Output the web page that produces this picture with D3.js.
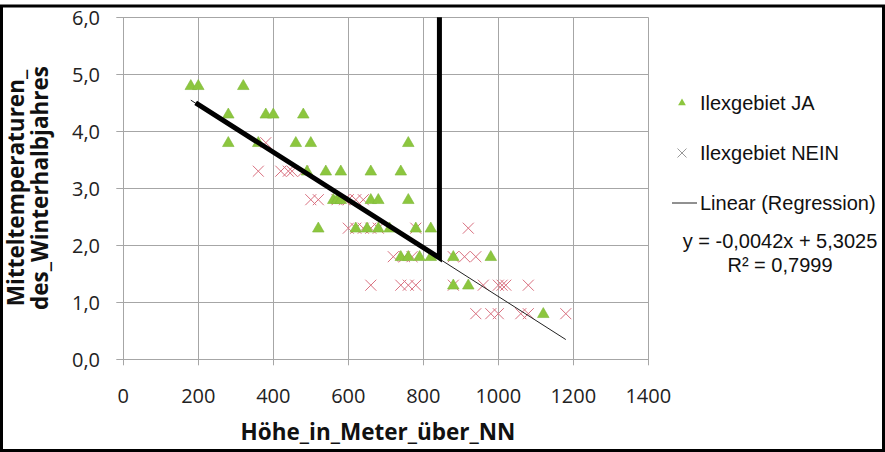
<!DOCTYPE html>
<html>
<head>
<meta charset="utf-8">
<script src="https://d3js.org/d3.v7.min.js"></script>
<style>
  body { margin: 0; background: #fff; }
  .tick-lbl { font-family: "Open Sans", sans-serif; font-size: 20px; fill: #222; }
  .axis-title { font-family: "Open Sans", sans-serif; font-size: 22.5px; font-weight: bold; fill: #111; }
  .legend-text { font-family: "Liberation Sans", Arial, sans-serif; font-size: 20px; fill: #111; }
</style>
</head>
<body>
<div id="chart"></div>
<script>
// Höhe (m) / Mitteltemperatur
const jaX = [180, 200, 320, 280, 380, 400, 480, 280, 360, 460, 500, 760,
  490, 540, 580, 660, 740, 560, 570, 580, 660, 680, 760,
  520, 620, 650, 680, 710, 780, 820, 740, 760, 790, 820, 880, 980,
  880, 920, 1120];
const jaY = [4.8, 4.8, 4.8, 4.3, 4.3, 4.3, 4.3, 3.8, 3.8, 3.8, 3.8, 3.8,
  3.3, 3.3, 3.3, 3.3, 3.3, 2.8, 2.8, 2.8, 2.8, 2.8, 2.8,
  2.3, 2.3, 2.3, 2.3, 2.3, 2.3, 2.3, 1.8, 1.8, 1.8, 1.8, 1.8, 1.8,
  1.3, 1.3, 0.8];

const neinX = [380, 360, 420, 440, 450, 480,
  500, 520, 570, 590, 600, 620, 640,
  600, 620, 640, 660, 680, 780, 920,
  720, 750, 770, 880, 910, 940,
  660, 740, 760, 780, 880, 960, 1000, 1010, 1020, 1080,
  940, 980, 1000, 1060, 1080, 1180];
const neinY = [3.8, 3.3, 3.3, 3.3, 3.3, 3.3,
  2.8, 2.8, 2.8, 2.8, 2.8, 2.8, 2.8,
  2.3, 2.3, 2.3, 2.3, 2.3, 2.3, 2.3,
  1.8, 1.8, 1.8, 1.8, 1.8, 1.8,
  1.3, 1.3, 1.3, 1.3, 1.3, 1.3, 1.3, 1.3, 1.3, 1.3,
  0.8, 0.8, 0.8, 0.8, 0.8, 0.8];

// trend line y = slope*x + intercept
const slope = -0.0042;
const intercept = 5.3025;
const trendRange = [180, 1180];

// thick hand-drawn annotation line
const markX = [193, 843, 843];
const markY = [4.5, 1.78, 6.0];

const xTicks = [0, 200, 400, 600, 800, 1000, 1200, 1400];
const yTicks = [0, 1, 2, 3, 4, 5, 6];
const legendLabels = ["Ilexgebiet JA", "Ilexgebiet NEIN", "Linear (Regression)"];
const eqText = "y = -0,0042x + 5,3025";
const r2Text = "R² = 0,7999";

const W = 885, H = 452;
const greenFill = "#8cc63e";
const pink = "#d9707f";
const gridCol = "#a6a6a6";

const svg = d3.select("#chart").append("svg")
    .attr("width", W)
    .attr("height", H);

const x = d3.scaleLinear().domain([0, 1400]).range([123.3, 648.3]);
const y = d3.scaleLinear().domain([0, 6]).range([359.3, 17.3]);

// grid
svg.append("g")
    .selectAll("line.v")
    .data(xTicks)
    .enter().append("line")
    .attr("x1", d => Math.round(x(d)) + 0.5).attr("x2", d => Math.round(x(d)) + 0.5)
    .attr("y1", y(6)).attr("y2", y(0) + 6)
    .attr("stroke", gridCol).attr("stroke-width", 1);

svg.append("g")
    .selectAll("line.h")
    .data(yTicks)
    .enter().append("line")
    .attr("y1", d => Math.round(y(d)) + 0.5).attr("y2", d => Math.round(y(d)) + 0.5)
    .attr("x1", x(0) - 7).attr("x2", x(1400))
    .attr("stroke", gridCol).attr("stroke-width", 1);

// tick labels
const fmt = d => d.toFixed(1).replace(".", ",");
svg.append("g")
    .selectAll("text")
    .data(xTicks)
    .enter().append("text")
    .attr("class", "tick-lbl")
    .attr("x", d => x(d))
    .attr("y", 403)
    .attr("text-anchor", "middle")
    .text(d => d);

svg.append("g")
    .selectAll("text")
    .data(yTicks)
    .enter().append("text")
    .attr("class", "tick-lbl")
    .attr("x", 100)
    .attr("y", d => y(d))
    .attr("dy", "0.36em")
    .attr("text-anchor", "end")
    .text(fmt);

// axis titles
svg.append("text")
    .attr("class", "axis-title")
    .attr("x", 378)
    .attr("y", 440)
    .attr("text-anchor", "middle")
    .text("Höhe_in_Meter_über_NN");

const yTitle = svg.append("text")
    .attr("class", "axis-title")
    .attr("transform", "translate(0,188) rotate(-90)")
    .attr("text-anchor", "middle");
yTitle.append("tspan").attr("x", 0).attr("y", 24).text("Mitteltemperaturen_");
yTitle.append("tspan").attr("x", 0).attr("y", 48).text("des_Winterhalbjahres");

// NEIN crosses
const cross = (cx, cy, r) => `M${cx - r},${cy - r}L${cx + r},${cy + r}M${cx - r},${cy + r}L${cx + r},${cy - r}`;
svg.append("g")
    .selectAll("path")
    .data(neinX.map((v, i) => [v, neinY[i]]))
    .enter().append("path")
    .attr("d", d => cross(x(d[0]), y(d[1]), 5.5))
    .attr("stroke", pink)
    .attr("stroke-width", 1)
    .attr("fill", "none");

// JA triangles
const tri = d3.symbol().type(d3.symbolTriangle).size(58);
svg.append("g")
    .selectAll("path")
    .data(jaX.map((v, i) => [v, jaY[i]]))
    .enter().append("path")
    .attr("d", tri)
    .attr("transform", d => `translate(${x(d[0])},${y(d[1]) + 0.5})`)
    .attr("fill", greenFill)
    .attr("stroke", "#7fb83a")
    .attr("stroke-width", 0.6);

// regression line
svg.append("line")
    .attr("x1", x(trendRange[0])).attr("y1", y(slope * trendRange[0] + intercept))
    .attr("x2", x(trendRange[1])).attr("y2", y(slope * trendRange[1] + intercept))
    .attr("stroke", "#222")
    .attr("stroke-width", 1);

// thick annotation
svg.append("path")
    .datum(markX.map((v, i) => [v, markY[i]]))
    .attr("d", d3.line().x(d => x(d[0])).y(d => y(d[1])))
    .attr("fill", "none")
    .attr("stroke", "#000")
    .attr("stroke-width", 5)
    .attr("stroke-linejoin", "miter");

// legend
const lg = svg.append("g");
lg.append("path")
    .attr("d", d3.symbol().type(d3.symbolTriangle).size(26))
    .attr("transform", "translate(682,103)")
    .attr("fill", greenFill);
lg.append("path")
    .attr("d", cross(682, 153, 4.5))
    .attr("stroke", "#999")
    .attr("stroke-width", 1);
lg.append("line")
    .attr("x1", 672).attr("x2", 697)
    .attr("y1", 203).attr("y2", 203)
    .attr("stroke", "#222").attr("stroke-width", 1);

lg.selectAll("text.item")
    .data(legendLabels)
    .enter().append("text")
    .attr("class", "legend-text")
    .attr("x", 700)
    .attr("y", (d, i) => [110, 160, 210][i])
    .text(d => d);

lg.append("text")
    .attr("class", "legend-text")
    .attr("x", 780).attr("y", 248)
    .attr("text-anchor", "middle")
    .text(eqText);
lg.append("text")
    .attr("class", "legend-text")
    .attr("x", 780).attr("y", 272)
    .attr("text-anchor", "middle")
    .text(r2Text);

// outer frame
svg.append("rect")
    .attr("x", 1.5).attr("y", 6)
    .attr("width", 882).attr("height", 444.5)
    .attr("fill", "none")
    .attr("stroke", "#000")
    .attr("stroke-width", 3);
</script>
</body>
</html>
